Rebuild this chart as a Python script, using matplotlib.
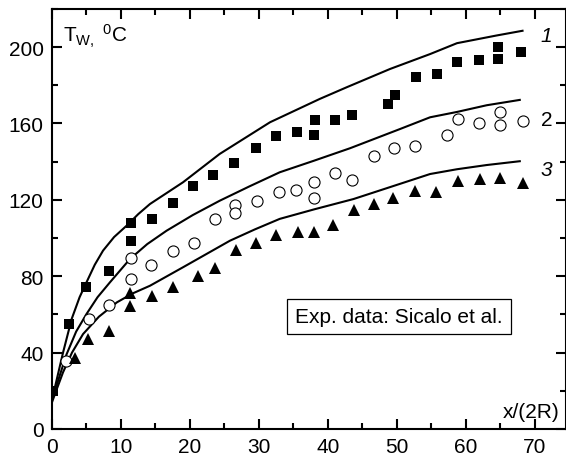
import matplotlib
matplotlib.use('Agg')
import matplotlib.pyplot as plt
from matplotlib.ticker import MultipleLocator

plt.rcParams['font.family'] = ['Liberation Sans', 'DejaVu Sans']
plt.rcParams['mathtext.fontset'] = 'custom'
plt.rcParams['mathtext.rm'] = 'Liberation Sans'
plt.rcParams['mathtext.it'] = 'Liberation Sans:italic'

# model curves 1, 2, 3
c1_x = [0, 0.5, 1.6, 2.85, 4, 5, 6.2, 7.4, 9, 10.8, 12.5, 14.2, 19, 24.3, 31.6, 38.8, 42.7, 49, 54.8, 58.7, 64.4, 68.2]
c1_y = [16, 23, 40, 57.6, 69, 76.8, 86, 93.4, 100.5, 106.4, 112.5, 117.8, 129.2, 144, 160.6, 172.8, 178.9, 188.5, 196.3, 202, 206, 208.5]
c2_x = [0, 0.5, 2.1, 3.5, 5, 6.6, 8.4, 11.3, 13.8, 16.6, 20.4, 24.3, 28.6, 33, 38, 43.2, 50.4, 54.8, 58.7, 63, 67.8]
c2_y = [15, 21, 39, 51, 60.2, 69, 76.8, 89, 96.8, 103.8, 112, 119.5, 127, 134.4, 140.5, 147, 157, 163.2, 166, 169.5, 172.3]
c3_x = [0, 0.5, 1.6, 2.9, 4.5, 6.8, 9.4, 11.7, 14.2, 19, 25.8, 29.4, 33, 38, 43.7, 50.4, 54.8, 58.7, 63, 67.8]
c3_y = [14, 19, 29.7, 40, 49.7, 58.8, 66.3, 71, 75, 84.7, 98.6, 104.5, 110, 115, 120.4, 128.3, 133.5, 136, 138.2, 140.2]

# experimental data (Sicalo et al.)
sq_x = [0.2, 2.5, 5.0, 8.3, 11.45, 11.45, 14.5, 17.5, 20.4, 23.4, 26.4, 29.5, 32.4, 35.5, 38.0, 38.1,
        41.0, 43.5, 48.7, 49.7, 52.7, 55.8, 58.7, 61.9, 64.7, 64.7, 68.0]
sq_y = [20, 55, 74.5, 82.7, 108, 98.3, 110.1, 118.2, 127.4, 133, 139.3, 147.3, 153.2, 155.3, 154.1, 161.9,
        161.9, 164.4, 170.2, 175.1, 184.3, 186, 192.3, 193, 199.8, 193.7, 197.2]
ci_x = [2.0, 5.3, 8.3, 11.45, 11.45, 14.4, 17.6, 20.6, 23.6, 26.5, 26.5, 29.7, 32.9, 35.3, 38.0, 38.0,
        41.0, 43.5, 46.6, 49.6, 52.6, 57.3, 58.8, 61.9, 64.9, 64.9, 68.2]
ci_y = [35.6, 57.7, 65.1, 89.5, 78.7, 86, 93.4, 97.4, 110.1, 117.3, 113.2, 119.2, 124.1, 125.3, 129.2, 121.1,
        134, 130.4, 142.9, 147.1, 148.3, 154.1, 162.3, 160.1, 166.1, 159.2, 161.1]
tr_x = [3.3, 5.2, 8.2, 11.3, 11.3, 14.5, 17.6, 21.2, 23.6, 26.6, 29.5, 32.4, 35.6, 38.0, 40.8, 43.7,
        46.7, 49.4, 52.6, 55.7, 58.8, 62.0, 65.0, 68.2]
tr_y = [37.3, 47, 51.5, 71, 64.4, 69.8, 74.3, 79.9, 84.5, 93.7, 97.5, 101.6, 103.3, 103.3, 106.8, 114.7,
        118, 121.1, 124.8, 123.9, 129.8, 130.9, 131.6, 128.8]

fig = plt.figure(figsize=(5.66, 4.60), dpi=100)
ax = fig.add_axes([52 / 566, 30 / 460, 514 / 566, 420.2 / 460])

for cx, cy in [(c1_x, c1_y), (c2_x, c2_y), (c3_x, c3_y)]:
    ax.plot(cx, cy, color='black', lw=1.5)

ax.plot(sq_x, sq_y, 's', color='black', ms=7, mew=0)
ax.plot(ci_x, ci_y, 'o', mfc='white', mec='black', ms=8, mew=0.8)
ax.plot(tr_x, tr_y, '^', color='black', ms=9, mew=0)

ax.text(71.7, 205.9, '1', fontsize=15, style='italic', ha='center', va='center')
ax.text(71.7, 162.3, '2', fontsize=15, ha='center', va='center')
ax.text(71.7, 136, '3', fontsize=15, style='italic', ha='center', va='center')

ax.text(1.6, 203, r'T$_\mathrm{W,}$ $^\mathrm{0}$C', fontsize=15, ha='left', va='baseline')
ax.text(73.6, 6.3, 'x/(2R)', fontsize=15, ha='right', va='baseline')
ax.text(50.3, 58.9, 'Exp. data: Sicalo et al.', fontsize=15, ha='center', va='center',
        bbox=dict(boxstyle='square,pad=0.4', fc='white', ec='black', lw=0.9))

ax.set_xlim(0, 74.5)
ax.set_ylim(0, 220)
ax.xaxis.set_major_locator(MultipleLocator(10))
ax.xaxis.set_minor_locator(MultipleLocator(5))
ax.yaxis.set_major_locator(MultipleLocator(40))
ax.yaxis.set_minor_locator(MultipleLocator(20))
ax.tick_params(which='both', direction='in', top=True, right=True, width=1.5, labelsize=15, pad=6)
ax.tick_params(which='major', length=7)
ax.tick_params(which='minor', length=4)
for s in ax.spines.values():
    s.set_linewidth(1.5)

fig.savefig('out.png', dpi=100)
